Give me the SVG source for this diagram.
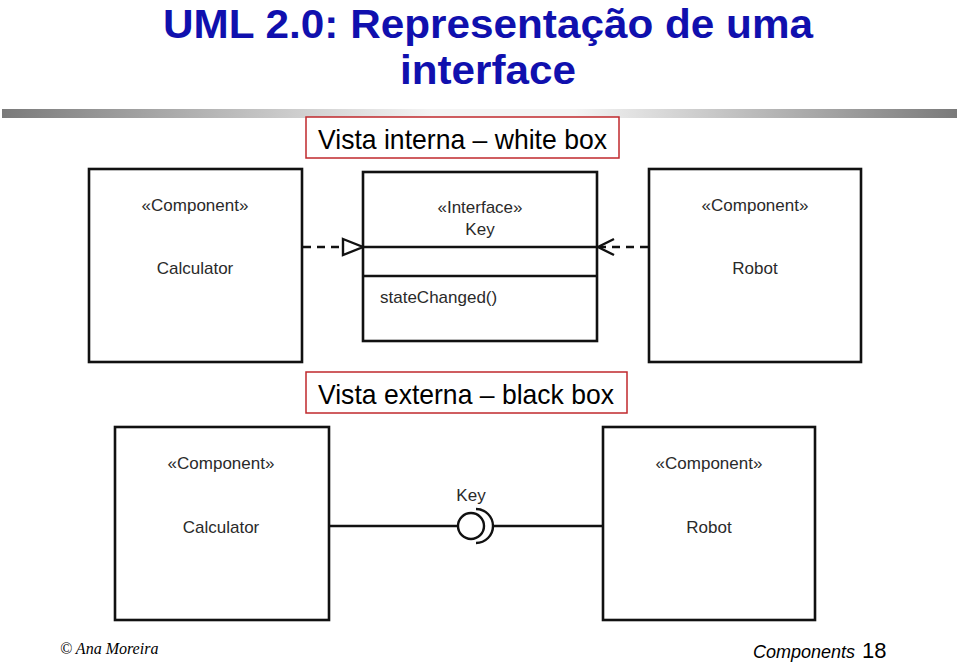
<svg xmlns="http://www.w3.org/2000/svg" width="959" height="663" viewBox="0 0 959 663">
<style>
.title{font-family:"Liberation Sans",Arial,sans-serif;font-weight:bold;font-size:41px;fill:#1010ae;text-anchor:middle}
.cap{font-family:"Liberation Sans",Arial,sans-serif;font-size:28px;fill:#000}
.capbox{fill:#fff;stroke:#c0282d;stroke-width:1.5}
.box{fill:#fff;stroke:#111;stroke-width:2.6}
.lbl{font-family:"Liberation Sans",Arial,sans-serif;font-size:17px;fill:#2a2a2a;text-anchor:middle}
.lbll{font-family:"Liberation Sans",Arial,sans-serif;font-size:17px;fill:#2a2a2a}
.ln{stroke:#111;stroke-width:2.4;fill:none}
.dash{stroke:#111;stroke-width:2.4;fill:none;stroke-dasharray:8 6}
</style>
<defs>
<linearGradient id="bar" x1="0" y1="0" x2="1" y2="0">
<stop offset="0" stop-color="#7a7a7a"/>
<stop offset="0.45" stop-color="#f4f4f4"/>
<stop offset="0.6" stop-color="#f4f4f4"/>
<stop offset="1" stop-color="#7a7a7a"/>
</linearGradient>
</defs>
<rect width="959" height="663" fill="#fff"/>
<g id="title">
<text class="title" x="488" y="37.5" textLength="650" lengthAdjust="spacingAndGlyphs">UML 2.0: Representação de uma</text>
<text class="title" x="488" y="84" textLength="176" lengthAdjust="spacingAndGlyphs">interface</text>
</g>
<rect x="2" y="109" width="955" height="9" fill="url(#bar)"/>
<g id="caption-interna">
<rect class="capbox" x="306" y="117" width="313" height="41"/>
<text class="cap" x="318" y="149" textLength="289" lengthAdjust="spacingAndGlyphs">Vista interna – white box</text>
</g>
<g id="calc-top">
<rect class="box" x="89" y="169" width="213" height="193"/>
<text class="lbl" x="195" y="211">«Component»</text>
<text class="lbl" x="195" y="274">Calculator</text>
</g>
<g id="key-iface">
<rect class="box" x="363" y="172" width="234" height="169"/>
<line class="ln" x1="363" y1="247" x2="597" y2="247"/>
<line class="ln" x1="363" y1="276" x2="597" y2="276"/>
<text class="lbl" x="480" y="213">«Interface»</text>
<text class="lbl" x="480" y="235">Key</text>
<text class="lbll" x="380" y="303">stateChanged()</text>
</g>
<g id="robot-top">
<rect class="box" x="649" y="169" width="212" height="193"/>
<text class="lbl" x="755" y="211">«Component»</text>
<text class="lbl" x="755" y="274">Robot</text>
</g>
<g id="caption-externa">
<rect class="capbox" x="306" y="372" width="321" height="41"/>
<text class="cap" x="318" y="404" textLength="296" lengthAdjust="spacingAndGlyphs">Vista externa – black box</text>
</g>
<g id="calc-bottom">
<rect class="box" x="115" y="427" width="214" height="193"/>
<text class="lbl" x="221" y="469">«Component»</text>
<text class="lbl" x="221" y="533">Calculator</text>
</g>
<g id="robot-bottom">
<rect class="box" x="603" y="427" width="212" height="193"/>
<text class="lbl" x="709" y="469">«Component»</text>
<text class="lbl" x="709" y="533">Robot</text>
</g>
<g id="connectors">
<line class="dash" x1="303" y1="247" x2="343" y2="247"/>
<polygon points="343,239 363,247 343,255" fill="#fff" stroke="#111" stroke-width="2.4"/>
<line class="dash" x1="648" y1="247" x2="600" y2="247"/>
<polyline class="ln" points="614,239 598,247 614,255"/>
<line class="ln" x1="329" y1="526" x2="458" y2="526"/>
<circle cx="471" cy="526" r="13" fill="#fff" stroke="#111" stroke-width="2.4"/>
<path class="ln" d="M476,509 A17,17 0 0 1 476,543"/>
<line class="ln" x1="493" y1="526" x2="603" y2="526"/>
<text class="lbl" x="471" y="501">Key</text>
</g>
<g id="footer">
<text x="60" y="654" font-family="'Liberation Serif','Times New Roman',serif" font-style="italic" font-size="16" fill="#000">© Ana Moreira</text>
<text x="753" y="658" font-family="'Liberation Sans',Arial,sans-serif" font-style="italic" font-size="18" fill="#000">Components</text>
<text x="862" y="658" font-family="'Liberation Sans',Arial,sans-serif" font-size="22" fill="#000">18</text>
</g>
</svg>
